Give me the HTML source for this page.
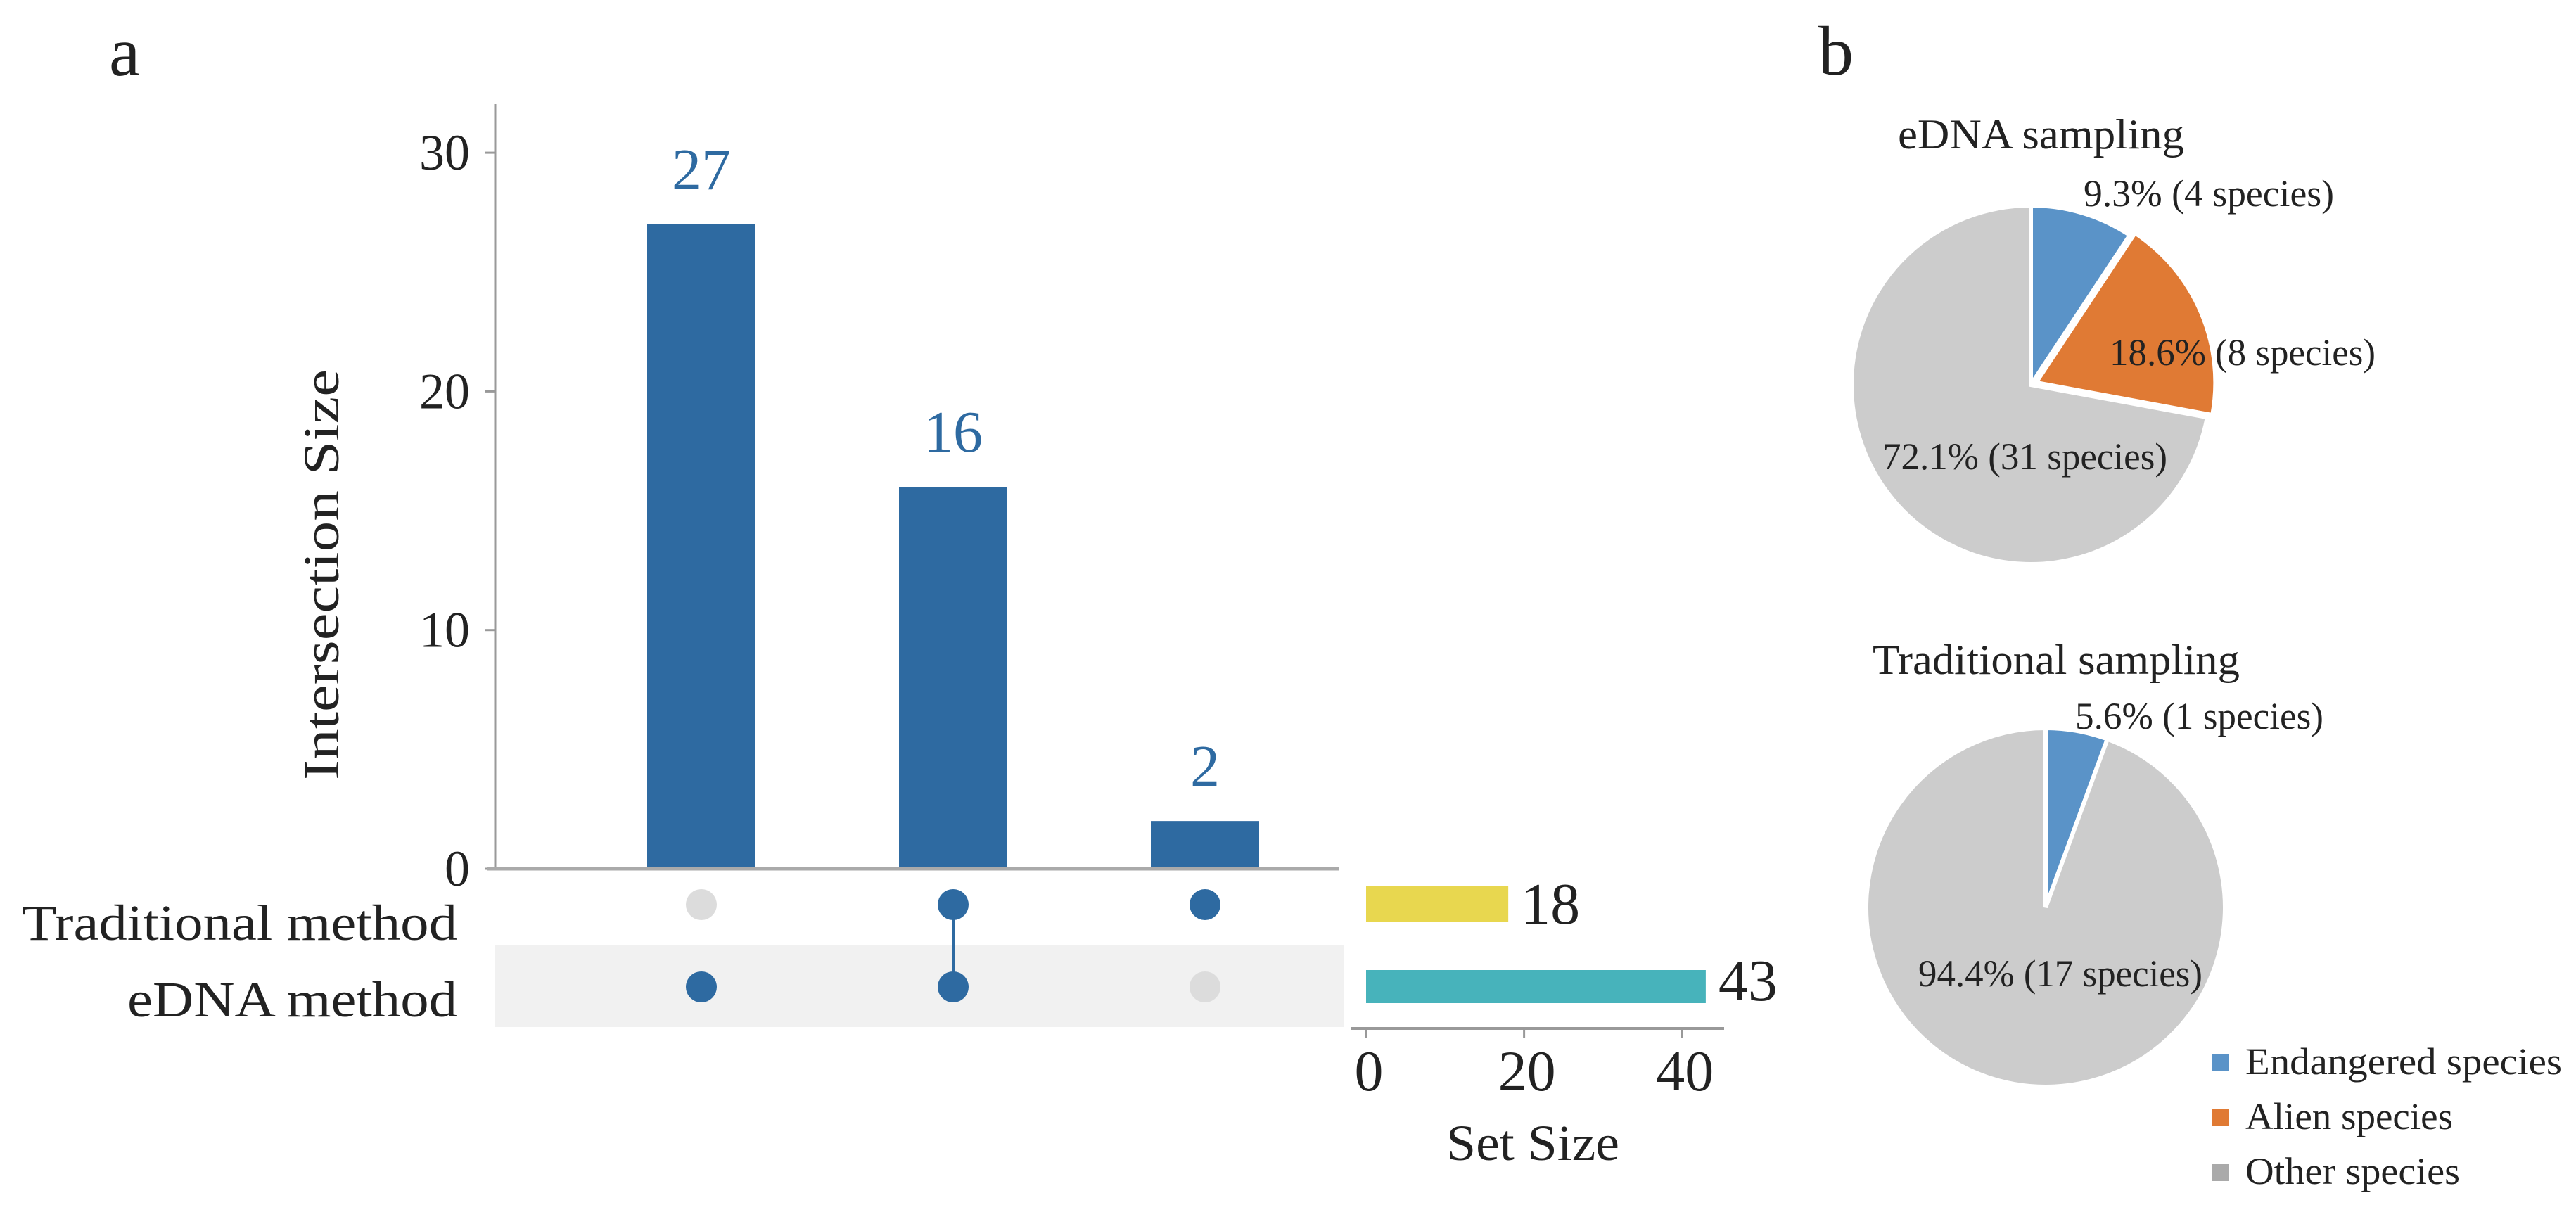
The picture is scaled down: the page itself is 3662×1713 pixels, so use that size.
<!DOCTYPE html>
<html><head><meta charset="utf-8">
<style>
html,body{margin:0;padding:0;background:#fff;}
svg{display:block;}
text{font-family:"Liberation Serif",serif;}
</style></head>
<body>
<svg id="fig" width="3662" height="1713" viewBox="0 0 3662 1713" xmlns="http://www.w3.org/2000/svg">
<rect x="0" y="0" width="3662" height="1713" fill="#fff"/>
<text x="155" y="107" font-size="100" fill="#222">a</text>
<text x="2585" y="106" font-size="100" fill="#222">b</text>
<g id="upset"></g>
<g id="pies"></g>
</svg>
<script>
const intersectionValues = [27, 16, 2];
const intersectionSets = [[0,1],[1,1],[1,0]]; // [traditional, eDNA]
const yTicks = [0, 10, 20, 30];
const setNames = ["Traditional method", "eDNA method"];
const setSizes = [18, 43];
const setTicks = [0, 20, 40];
const pie1Values = [9.3, 18.6, 72.1];
const pie1Labels = ["9.3% (4 species)", "18.6% (8 species)", "72.1% (31 species)"];
const pie2Values = [5.6, 0, 94.4];
const pie2Labels = ["5.6% (1 species)", "", "94.4% (17 species)"];
const legendNames = ["Endangered species", "Alien species", "Other species"];

const NS = "http://www.w3.org/2000/svg";
function mk(tag, attrs, parent, txt){const e=document.createElementNS(NS,tag);for(const k in attrs)e.setAttribute(k,attrs[k]);if(txt!==undefined)e.textContent=txt;parent.appendChild(e);return e;}
const up = document.getElementById('upset');
const y = v => 1235 - v*33.93;
const xBar = i => 997 + i*358;
const xs = v => 1942 + v*11.23;
const rowY = [1286, 1403];
const barColor = '#2e6aa1';

let el = mk('line',{x1:704,y1:148,x2:704,y2:1235,stroke:'#999','stroke-width':3},up);


yTicks.forEach(t=>{
  mk('line',{x1:690,y1:y(t),x2:704,y2:y(t),stroke:'#999','stroke-width':3},up);
  const tx = mk('text',{x:668,y:y(t)+24,'font-size':72,'text-anchor':'end',fill:'#222'},up,String(t));
  
  
});
el = mk('text',{x:0,y:0,'font-size':72,'text-anchor':'middle',fill:'#222',textLength:584,lengthAdjust:'spacingAndGlyphs',transform:'translate(481,817) rotate(-90)'},up,'Intersection Size');



el = mk('rect',{x:703,y:1344,width:1207,height:116,fill:'#f1f1f1'},up);



intersectionValues.forEach((v,i)=>{
  const b = mk('rect',{x:xBar(i)-77,y:y(v),width:154,height:1235-y(v),fill:barColor},up);
  
  
  const l = mk('text',{x:xBar(i),y:y(v)-50,'font-size':84,'text-anchor':'middle',fill:barColor},up,String(v));
  
  
  const on = intersectionSets[i];
  const act = rowY.filter((r,j)=>on[j]);
  if(act.length>1){
    const c = mk('line',{x1:xBar(i),y1:act[0],x2:xBar(i),y2:act[act.length-1],stroke:barColor,'stroke-width':4},up);
    
    
  }
  rowY.forEach((r,j)=>{
    const d = mk('circle',{cx:xBar(i),cy:r,r:22,fill:on[j]?barColor:'#dcdcdc'},up);
    
    
  });
});
el = mk('line',{x1:693,y1:1235,x2:1904,y2:1235,stroke:'#aaa','stroke-width':5},up);



const nameWidths = [619, 469];
const nameBase = [1336, 1445];
setNames.forEach((n,j)=>{
  const t = mk('text',{x:650,y:nameBase[j],'font-size':72,'text-anchor':'end',fill:'#222',textLength:nameWidths[j],lengthAdjust:'spacingAndGlyphs'},up,n);
  
  
});
const setColors = ['#e8d74f','#47b3bb'];
const setBarY = [[1260,50],[1379,47]];
const setLabBase = [1313,1422];
setSizes.forEach((v,j)=>{
  const b = mk('rect',{x:xs(0),y:setBarY[j][0],width:xs(v)-xs(0),height:setBarY[j][1],fill:setColors[j]},up);
  
  
  const t = mk('text',{x:xs(v)+18,y:setLabBase[j],'font-size':84,fill:'#222'},up,String(v));
  
  
});
el = mk('line',{x1:1920,y1:1462,x2:2451,y2:1462,stroke:'#999','stroke-width':4},up);


setTicks.forEach(t=>{
  mk('line',{x1:xs(t),y1:1462,x2:xs(t),y2:1476,stroke:'#999','stroke-width':3},up);
  const tx = mk('text',{x:xs(t)+4,y:1550,'font-size':82,'text-anchor':'middle',fill:'#222'},up,String(t));
  
  
});
el = mk('text',{x:2179,y:1649,'font-size':72,'text-anchor':'middle',fill:'#222',textLength:246,lengthAdjust:'spacingAndGlyphs'},up,'Set Size');



// pies
const pg = document.getElementById('pies');
const pieColors = ['#5a93c8','#e07a34','#cccccc'];
function pie(cx,cy,r,vals,labels,labelPos,title,titlePos,explode){
  const tot = vals.reduce((a,b)=>a+b,0);
  let a0 = -Math.PI/2;
  vals.forEach((v,i)=>{
    if(v<=0)return;
    const a1 = a0 + v/tot*2*Math.PI;
    const mid=(a0+a1)/2, off = explode[i]||0;
    const ox=cx+off*Math.cos(mid), oy=cy+off*Math.sin(mid);
    const large = (a1-a0)>Math.PI?1:0;
    const d = `M${ox},${oy} L${ox+r*Math.cos(a0)},${oy+r*Math.sin(a0)} A${r},${r} 0 ${large} 1 ${ox+r*Math.cos(a1)},${oy+r*Math.sin(a1)} Z`;
    const p = mk('path',{d:d,fill:pieColors[i],stroke:'#fff','stroke-width':6},pg);
    
    
    a0=a1;
  });
  labels.forEach((l,i)=>{
    if(!l)return;
    const t = mk('text',{x:labelPos[i][0],y:labelPos[i][1],'font-size':54,fill:'#222',textLength:labelPos[i][2],lengthAdjust:'spacingAndGlyphs'},pg,l);
    
    
  });
  const tt = mk('text',{x:titlePos[0],y:titlePos[1],'font-size':60,fill:'#222',textLength:titlePos[2],lengthAdjust:'spacingAndGlyphs'},pg,title);
  
  
}
pie(2887,547,255,pie1Values,pie1Labels,[[2962,293,356],[2999,519,378],[2676,667,405]],'eDNA sampling',[2698,211,407],[0,8,0]);
pie(2908,1290,255,pie2Values,pie2Labels,[[2950,1036,353],[0,0,0],[2727,1402,404]],'Traditional sampling',[2662,958,522],[0,0,0]);
const legWidths = [450, 295, 305];
legendNames.forEach((n,i)=>{
  const ly = 1511 + i*78;
  const s = mk('rect',{x:3145,y:ly-12,width:23,height:24,fill:pieColors[i]==='#cccccc'?'#aaaaaa':pieColors[i]},pg);
  
  
  const t = mk('text',{x:3192,y:ly+16,'font-size':54,fill:'#222',textLength:legWidths[i],lengthAdjust:'spacingAndGlyphs'},pg,n);
  
  
});
</script>
</body></html>
